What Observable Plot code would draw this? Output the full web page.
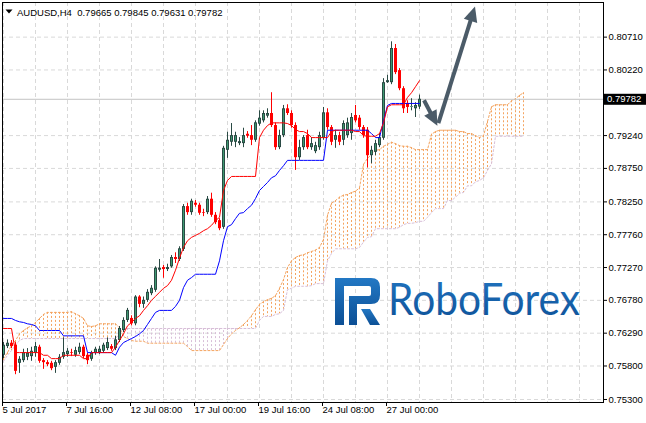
<!DOCTYPE html>
<html>
<head>
<meta charset="utf-8">
<script src="https://cdn.jsdelivr.net/npm/d3@7"></script>
<script src="https://cdn.jsdelivr.net/npm/@observablehq/plot@0.6"></script>
<style>
html,body{margin:0;padding:0;background:#fff;}
#chart{width:646px;height:423px;position:relative;overflow:hidden;}
</style>
</head>
<body>
<div id="chart"></div>
<script>
// ---- AUDUSD H4 candles (bar index 0 = 5 Jul 2017 00:00) ----
const open = [
 .7596,.7609,.7614,.7611,.7584,.7588,.7593,.7594,.7599,.7608,
 .7588,.7585,.7584,.7578,.7584,.7593,.7597,.7600,.7596,.7600,
 .7608,.7596,.7590,.7599,.7600,.7602,.7606,.7609,.7606,.7618,
 .7633,.7648,.7651,.7643,.7683,.7672,.7678,.7688,.7693,.7723,
 .7727,.7724,.7728,.7742,.7739,.7754,.7818,.7809,.7823,.7820,
 .7809,.7809,.7829,.7805,.7797,.7787,.7902,.7914,.7914,.7912,
 .7912,.7926,.7924,.7917,.7941,.7946,.7953,.7957,.7939,.7906,
 .7924,.7964,.7957,.7939,.7891,.7906,.7924,.7906,.7900,.7906,
 .7920,.7958,.7936,.7917,.7924,.7917,.7924,.7927,.7954,.7950,
 .7936,.7932,.7894,.7899,.7909,.7920,.8003,.8003,.8054,.8021,
 .7994,.7972,.7966,.7964,.79665];
const high = [
 .7615,.7619,.7618,.7615,.7594,.7605,.7606,.7608,.7615,.7611,
 .7591,.7588,.7587,.7588,.7597,.7622,.7606,.7605,.7608,.7614,
 .7611,.7599,.7602,.7608,.7609,.7614,.7622,.7612,.7624,.7639,
 .7652,.7666,.7655,.7685,.7685,.7683,.7694,.7700,.7728,.7739,
 .7730,.7732,.7745,.7749,.7758,.7821,.7823,.7829,.7827,.7823,
 .7814,.7833,.7838,.7809,.7800,.7908,.7929,.7942,.7929,.7921,
 .7935,.7930,.7939,.7946,.7961,.7961,.7964,.7988,.7943,.7932,
 .7969,.7970,.7961,.7943,.7917,.7924,.7932,.7921,.7914,.7929,
 .7966,.7964,.7939,.7932,.7929,.7946,.7950,.7957,.7969,.7954,
 .7939,.7936,.7908,.7917,.7927,.8009,.8014,.8064,.8060,.8024,
 .7997,.7976,.7979,.7973,.79845];
const low = [
 .7591,.7606,.7606,.7567,.7569,.7585,.7588,.7587,.7593,.7584,
 .7575,.7579,.7573,.7569,.7581,.7590,.7593,.7594,.7593,.7597,
 .7591,.7582,.7587,.7596,.7597,.7599,.7603,.7602,.7603,.7615,
 .7630,.7645,.7640,.7640,.7667,.7666,.7675,.7685,.7690,.7720,
 .7711,.7721,.7726,.7733,.7736,.7751,.7805,.7805,.7817,.7805,
 .7803,.7806,.7802,.7791,.7782,.7784,.7890,.7908,.7906,.7909,
 .7906,.7920,.7909,.7914,.7938,.7943,.7950,.7936,.7902,.7903,
 .7921,.7954,.7935,.7872,.7887,.7902,.7903,.7902,.7897,.7902,
 .7917,.7932,.7909,.7905,.7909,.7909,.7920,.7917,.7943,.7932,
 .7920,.7876,.7882,.7894,.7906,.7917,.8002,.8000,.8015,.7991,
 .7957,.7957,.7961,.7951,.79631];
const close = [
 .7611,.7614,.7609,.7572,.7590,.7600,.7599,.7602,.7609,.7587,
 .7585,.7582,.7576,.7585,.7593,.7600,.7602,.7599,.7603,.7608,
 .7594,.7588,.7599,.7605,.7605,.7611,.7615,.7605,.7619,.7636,
 .7648,.7663,.7643,.7683,.7672,.7678,.7690,.7696,.7726,.7726,
 .7724,.7727,.7742,.7739,.7755,.7818,.7809,.7826,.7820,.7808,
 .7808,.7829,.7805,.7794,.7785,.7905,.7917,.7924,.7924,.7915,
 .7924,.7923,.7917,.7943,.7950,.7957,.7957,.7939,.7906,.7924,
 .7964,.7957,.7939,.7891,.7906,.7921,.7906,.7912,.7909,.7924,
 .7958,.7936,.7914,.7924,.7914,.7942,.7943,.7951,.7946,.7936,
 .7924,.7894,.7902,.7912,.7921,.8003,.8006,.8054,.8018,.7994,
 .7964,.7966,.7967,.7969,.79782];

// ---- Ichimoku ----
const tenkan = [
 .7636,.7636,.7636,.7600,.7600,.7600,.7600,.7600,.7600,.7600,
 .7596,.7596,.7591,.7591,.7591,.7596,.7596,.7596,.7596,.7596,
 .7591,.7591,.7600,.7600,.7600,.7600,.7600,.7600,.7608,.7618,
 .7628,.7640,.7645,.7651,.7655,.7663,.7670,.7678,.7684,.7690,
 .7696,.7700,.7708,.7723,.7741,.7757,.7767,.7772,.7775,.7778,
 .7782,.7785,.7790,.7797,.7802,.7842,.7857,.7863,.7863,.7863,
 .7863,.7863,.7863,.7863,.7921,.7932,.7939,.7943,.7943,.7943,
 .7943,.7942,.7939,.7933,.7930,.7930,.7927,.7921,.7921,.7921,
 .7921,.7921,.7930,.7932,.7932,.7932,.7932,.7932,.7930,.7930,
 .7924,.7923,.7923,.7923,.7927,.7943,.7967,.7970,.7970,.7970,
 .7970,.7981,.7988,.7997,.8006];
const kijun = [
 .7651,.7651,.7651,.7648,.7646,.7645,.7643,.7642,.7640,.7633,
 .7633,.7633,.7633,.7633,.7633,.7625,.7625,.7625,.7625,.7625,
 .7625,.7600,.7600,.7600,.7600,.7600,.7600,.7600,.7596,.7608,
 .7615,.7618,.7621,.7624,.7628,.7633,.7642,.7651,.7660,.7663,
 .7663,.7663,.7663,.7669,.7678,.7697,.7708,.7712,.7717,.7717,
 .7717,.7717,.7717,.7717,.7737,.7767,.7788,.7791,.7800,.7808,
 .7809,.7815,.7820,.7830,.7842,.7848,.7854,.7861,.7864,.7872,
 .7879,.7887,.7887,.7887,.7887,.7887,.7887,.7887,.7887,.7887,
 .7887,.7932,.7932,.7932,.7932,.7932,.7932,.7932,.7932,.7932,
 .7932,.7932,.7927,.7921,.7921,.7946,.7969,.7972,.7972,.7972,
 .7972,.7972,.7972,.7972,.7972];
const spanA = [
 .7591,.7600,.7611,.7618,.7628,.7633,.7637,.7640,.7645,.7651,
 .7657,.7660,.7660,.7660,.7660,.7660,.7660,.7661,.7658,.7655,
 .7651,.7640,.7639,.7640,.7643,.7643,.7643,.7643,.7643,.7637,
 .7624,.7621,.7618,.7617,.7617,.7617,.7614,.7614,.7614,.7614,
 .7614,.7614,.7614,.7614,.7614,.7614,.7609,.7603,.7603,.7603,
 .7603,.7603,.7603,.7603,.7603,.7612,.7621,.7628,.7633,.7637,
 .7642,.7648,.7655,.7664,.7672,.7676,.7679,.7681,.7685,.7696,
 .7709,.7727,.7737,.7742,.7745,.7746,.7749,.7751,.7753,.7757,
 .7769,.7805,.7823,.7827,.7832,.7835,.7836,.7839,.7841,.7846,
 .7881,.7890,.7896,.7902,.7903,.7908,.7911,.7914,.7912,.7909,
 .7908,.7908,.7906,.7903,.7903,.7903,.7903,.7926,.7930,.7932,
 .7932,.7932,.7932,.7932,.7930,.7930,.7927,.7927,.7924,.7921,
 .7924,.7945,.7967,.7970,.7970,.7970,.7970,.7976,.7979,.7984,
 .7988];
const spanB = [
 .7587,.7596,.7603,.7611,.7618,.7621,.7621,.7621,.7621,.7621,
 .7621,.7621,.7621,.7621,.7621,.7621,.7621,.7621,.7621,.7621,
 .7621,.7621,.7621,.7621,.7621,.7621,.7621,.7621,.7621,.7628,
 .7636,.7636,.7636,.7636,.7636,.7636,.7636,.7636,.7636,.7636,
 .7636,.7636,.7636,.7636,.7636,.7636,.7636,.7636,.7636,.7636,
 .7636,.7636,.7636,.7636,.7636,.7636,.7636,.7636,.7636,.7636,
 .7636,.7636,.7636,.7636,.7648,.7654,.7654,.7654,.7657,.7658,
 .7663,.7694,.7696,.7699,.7699,.7699,.7699,.7700,.7703,.7703,
 .7703,.7737,.7748,.7755,.7755,.7755,.7755,.7755,.7755,.7757,
 .7765,.7772,.7773,.7785,.7785,.7785,.7785,.7785,.7785,.7787,
 .7791,.7793,.7793,.7794,.7796,.7796,.7802,.7809,.7815,.7815,
 .7815,.7827,.7827,.7832,.7838,.7839,.7849,.7849,.7855,.7857,
 .7861,.7872,.7882,.7923,.7923,.7923,.7923,.7923,.7923,.7923,
 .7923];

// ---- axes / labels ----
const priceTicks = [0.80710, 0.80220, 0.79240, 0.78750, 0.78250, 0.77760, 0.77270, 0.76780, 0.76290, 0.75800, 0.75300];
const timeLabelBars = [0, 16, 32, 48, 64, 80, 96];
const timeLabels = ["5 Jul 2017", "7 Jul 16:00", "12 Jul 08:00", "17 Jul 00:00", "19 Jul 16:00", "24 Jul 08:00", "27 Jul 00:00"];
const gridBars = [0, 8, 16, 24, 32, 40, 48, 56, 64, 72, 80, 88, 96, 104, 112, 120, 128, 136, 144];
const symbol = "AUDUSD,H4";
const lastPrice = 0.79782;
// arrows (bar index, price)
const arrowFromBar = [105.25, 108.85];
const arrowFromPrice = [0.7976, 0.7942];
const arrowToBar = [108.6, 118.0];
const arrowToPrice = [0.7938, 0.8116];

const bars = open.map((o, i) => ({i, o, h: high[i], l: low[i], c: close[i], up: close[i] >= o,
  top: Math.max(o, close[i]), bot: Math.min(o, close[i])}));
const ichi = tenkan.map((t, i) => ({i, t, k: kijun[i]}));
const kumo = spanA.map((a, i) => ({i, a, b: spanB[i]}));
const labelOf = new Map(timeLabelBars.map((b, j) => [b, timeLabels[j]]));

const BULL_EDGE = "#2a4a44", BULL_FILL = "#3d9970", BEAR = "#ff0000";
const GRID = "#d9d9d9";
const FONT = "'Liberation Sans', Arial, sans-serif";

const plot = Plot.plot({
  width: 646, height: 423,
  marginLeft: 2, marginRight: 43, marginTop: 2, marginBottom: 21,
  x: {type: "linear", domain: [-0.25, 150], axis: null},
  y: {type: "linear", domain: [0.75255, 0.81227], axis: null},
  style: {fontFamily: FONT, fontSize: "9.5px", background: "#fff", color: "#000", overflow: "visible"},
  marks: [
    Plot.gridY(priceTicks, {stroke: GRID, strokeOpacity: 1, strokeDasharray: "4,3"}),
    Plot.gridX(gridBars, {stroke: GRID, strokeOpacity: 1, strokeDasharray: "4,3"}),
    Plot.ruleX(kumo, {x: "i", y1: "a", y2: "b", stroke: d => d.a >= d.b ? "#f4a460" : "#d8bfd8", strokeDasharray: "2,2"}),
    Plot.line(kumo, {x: "i", y: "b", stroke: "#d8bfd8", strokeWidth: 1, strokeDasharray: "2,2"}),
    Plot.line(kumo, {x: "i", y: "a", stroke: "#f4a460", strokeWidth: 1, strokeDasharray: "2,2"}),
    Plot.ruleY([lastPrice], {stroke: "#c4c4c4"}),
    Plot.ruleX(bars, {x: "i", y1: "l", y2: "h", stroke: d => d.up ? BULL_EDGE : BEAR, strokeWidth: 1}),
    Plot.ruleX(bars, {x: "i", y1: "top", y2: "bot", stroke: d => d.up ? BULL_EDGE : BEAR, strokeWidth: 3}),
    Plot.ruleX(bars.filter(d => d.up), {x: "i", y1: "top", y2: "bot", insetTop: 1, insetBottom: 1, stroke: BULL_FILL, strokeWidth: 1}),
    Plot.line(ichi, {x: "i", y: "k", stroke: "#0000ff", strokeWidth: 1}),
    Plot.line(ichi, {x: "i", y: "t", stroke: "#ff0000", strokeWidth: 1}),
    Plot.frame({stroke: "#000"}),
    Plot.axisY(priceTicks, {anchor: "right", label: null, tickSize: 3, tickPadding: 2, tickFormat: d => d.toFixed(5)}),
    Plot.axisX(timeLabelBars, {anchor: "bottom", label: null, tickSize: 4, tickPadding: 0, tickFormat: d => labelOf.get(d), textAnchor: "start", dx: -1})
  ]
});
document.getElementById("chart").append(plot);

// ---- overlays using the plot's scales ----
const svg = d3.select(plot);
const sx = plot.scale("x"), sy = plot.scale("y");

// current price label
const yp = sy.apply(lastPrice);
svg.append("rect").attr("x", 604).attr("y", yp - 5).attr("width", 42).attr("height", 11).attr("fill", "#000");
svg.append("text").attr("x", 607).attr("y", yp).attr("dy", "0.35em").attr("fill", "#fff").attr("text-anchor", "start")
  .attr("font-family", FONT).attr("font-size", 9.5).text(lastPrice.toFixed(5));

// title
svg.append("path").attr("d", "M5.5,9.5 L12.5,9.5 L9,13.5 Z").attr("fill", "#000");
svg.append("text").attr("x", 17).attr("y", 15.5).attr("fill", "#000").attr("text-anchor", "start")
  .attr("font-family", FONT).attr("font-size", 9.5)
  .text(symbol + "\u00a0\u00a0" + [open[104], high[104], low[104], close[104]].map(v => v.toFixed(5)).join(" "));

// logo
const defs = svg.append("defs");
const grad = defs.append("linearGradient").attr("id", "rfg").attr("x1", 0).attr("y1", 0).attr("x2", 0).attr("y2", 1);
grad.append("stop").attr("offset", "0").attr("stop-color", "#2378c4");
grad.append("stop").attr("offset", "1").attr("stop-color", "#0c4f95");
const logo = svg.append("g");
logo.append("path").attr("fill", "url(#rfg)")
  .attr("d", "M335,278 H371 Q380,278 380,287 V295 Q380,304 371,304 H357 V325 H349 V296 H369 Q371,296 371,294 V288 Q371,286 369,286 H344 V325 H335 Z");
logo.append("path").attr("fill", "url(#rfg)").attr("d", "M361,309 L370,309 L380,325 L370,325 Z");
logo.append("text").attr("x", 388).attr("y", 315).attr("fill", "url(#rfg)").attr("text-anchor", "start")
  .attr("font-family", "Lato, 'Open Sans', sans-serif").attr("font-size", 45)
  .attr("textLength", 192).attr("lengthAdjust", "spacingAndGlyphs").text("RoboForex");

// arrows
const AR = "#4b5b68";
arrowFromBar.forEach((b, j) => {
  const x1 = sx.apply(b), y1 = sy.apply(arrowFromPrice[j]);
  const x2 = sx.apply(arrowToBar[j]), y2 = sy.apply(arrowToPrice[j]);
  const dx = x2 - x1, dy = y2 - y1, len = Math.hypot(dx, dy), ux = dx / len, uy = dy / len;
  const hl = 15, hw = 7;
  const bx = x2 - ux * hl, by = y2 - uy * hl;
  svg.append("line").attr("x1", x1).attr("y1", y1).attr("x2", bx + ux * 2).attr("y2", by + uy * 2)
    .attr("stroke", AR).attr("stroke-width", 4);
  svg.append("path").attr("fill", AR)
    .attr("d", `M${x2},${y2} L${bx - uy * hw},${by + ux * hw} L${bx + uy * hw},${by - ux * hw} Z`);
});
</script>
</body>
</html>
